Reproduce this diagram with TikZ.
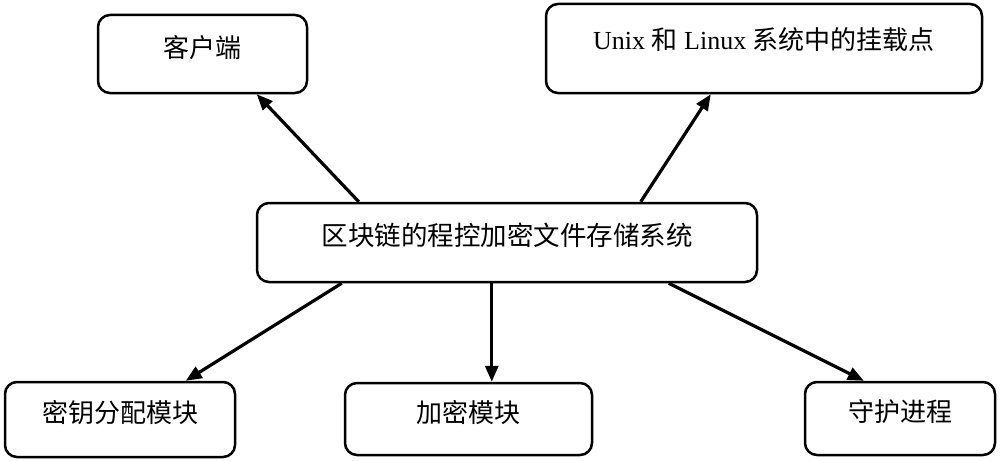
\documentclass[tikz,border=0pt]{standalone}
\usepackage{fontspec}
\setmainfont{Liberation Serif}
\newfontfamily\cjk{Noto Sans CJK SC}
\usetikzlibrary{arrows.meta}
\tikzset{
  box/.style={draw=black, line width=2.5pt, rounded corners=12pt, inner sep=0pt,
    font=\fontsize{26}{30}\selectfont, text height=20pt, text depth=12pt},
  conn/.style={line width=3.2pt, -{Triangle[length=16pt,width=13pt]}}
}
\begin{document}
\begin{tikzpicture}[x=1pt,y=-1pt]
\useasboundingbox (0,0) rectangle (1000,460);
\node[box, minimum width=209pt, minimum height=78pt] (client) at (202.5,54) {\cjk 客户端};
\node[box, minimum width=436pt, minimum height=89pt, text height=22pt, text depth=20pt] (unix) at (764,48.5) {Unix {\cjk 和} Linux {\cjk 系统中的挂载点}};
\node[box, minimum width=500pt, minimum height=79pt, font=\fontsize{26.5}{30}\selectfont, text height=22pt, text depth=16pt] (main) at (507,242.5) {\cjk 区块链的程控加密文件存储系统};
\node[box, minimum width=230pt, minimum height=75pt, text height=20pt, text depth=14pt] (key) at (120,419.5) {\cjk 密钥分配模块};
\node[box, minimum width=247pt, minimum height=72pt, text height=20pt, text depth=14pt] (enc) at (468.5,419) {\cjk 加密模块};
\node[box, minimum width=190pt, minimum height=73pt, text height=20pt, text depth=14pt] (daemon) at (900,418.5) {\cjk 守护进程};
\draw[conn] ([xshift=103pt]main.north west) -- ([xshift=160pt]client.south west);
\draw[conn] ([xshift=385pt]main.north west) -- ([xshift=166pt]unix.south west);
\draw[conn] ([xshift=86pt]main.south west) -- ([xshift=182pt]key.north west);
\draw[conn] ([xshift=236pt]main.south west) -- ([xshift=148pt]enc.north west);
\draw[conn] ([xshift=413pt]main.south west) -- ([xshift=60pt]daemon.north west);
\end{tikzpicture}
\end{document}
